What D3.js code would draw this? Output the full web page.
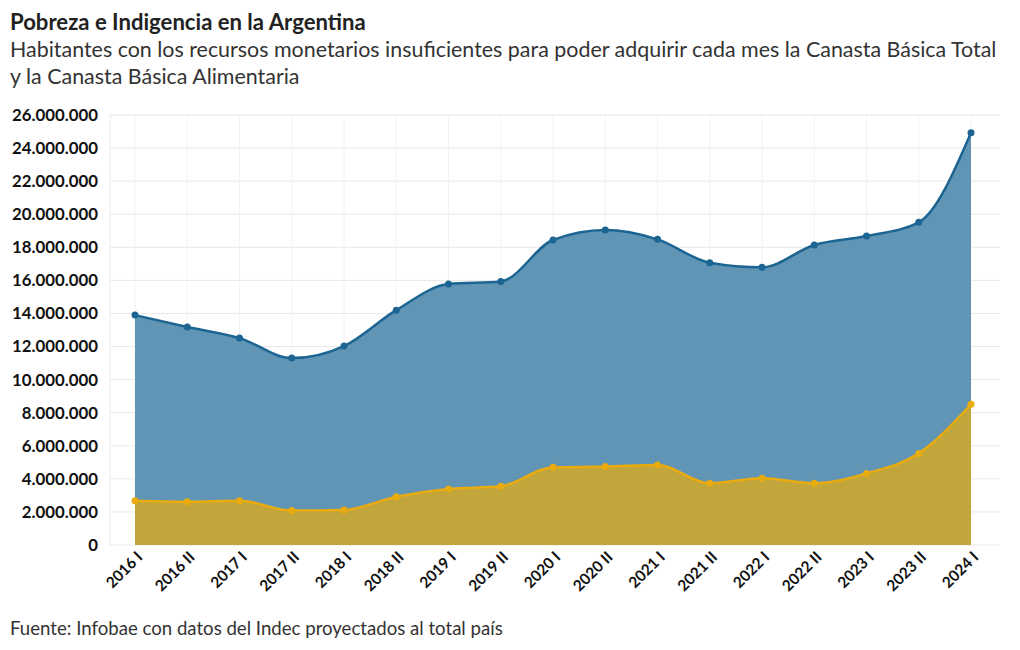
<!DOCTYPE html>
<html>
<head>
<meta charset="utf-8">
<script src="https://cdn.jsdelivr.net/npm/d3@7"></script>
<style>
  body { margin: 0; background: #fff; }
  svg { display: block; font-family: Lato, "Noto Sans", sans-serif; }
</style>
</head>
<body>
<svg id="chart" width="1020" height="650"></svg>
<script>
const categories = ["2016 I","2016 II","2017 I","2017 II","2018 I","2018 II","2019 I","2019 II","2020 I","2020 II","2021 I","2021 II","2022 I","2022 II","2023 I","2023 II","2024 I"];
const pobreza = [13900000,13180000,12510000,11300000,12030000,14200000,15780000,15930000,18440000,19040000,18480000,17070000,16790000,18140000,18680000,19510000,24930000];
const indigencia = [2680000,2620000,2680000,2080000,2120000,2920000,3390000,3550000,4700000,4740000,4840000,3730000,4030000,3730000,4330000,5540000,8510000];
const yTicks = [0,2000000,4000000,6000000,8000000,10000000,12000000,14000000,16000000,18000000,20000000,22000000,24000000,26000000];

const svg = d3.select("#chart");
const plot = {left: 110, right: 1000, top: 115, bottom: 545};

const x = d3.scalePoint().domain(categories).range([135, 971]);
const y = d3.scaleLinear().domain([0, 26000000]).range([plot.bottom, plot.top]);
const fmt = v => d3.format(",")(v).replace(/,/g, ".");

function fit(sel, base, target) {
  const w = sel.node().getComputedTextLength();
  return base * target / w;
}

// Title etc.
const title = svg.append("text").attr("x", 10).attr("y", 30).attr("font-weight", 700).attr("font-size", 20).attr("fill", "#222")
  .text("Pobreza e Indigencia en la Argentina");
title.attr("font-size", fit(title, 20, 356));
const sub1 = svg.append("text").attr("x", 10).attr("y", 57).attr("font-size", 19).attr("fill", "#333")
  .text("Habitantes con los recursos monetarios insuficientes para poder adquirir cada mes la Canasta Básica Total");
const sub2 = svg.append("text").attr("x", 10).attr("y", 84).attr("font-size", 19).attr("fill", "#333")
  .text("y la Canasta Básica Alimentaria");
const sfs = fit(sub1, 19, 987);
sub1.attr("font-size", sfs);
sub2.attr("font-size", sfs);
const foot = svg.append("text").attr("x", 10).attr("y", 635).attr("font-size", 17).attr("fill", "#333")
  .text("Fuente: Infobae con datos del Indec proyectados al total país");
foot.attr("font-size", fit(foot, 17, 493));

// Grid
const grid = svg.append("g");
grid.selectAll("line.h").data(yTicks).join("line")
  .attr("x1", plot.left).attr("x2", plot.right)
  .attr("y1", d => y(d)).attr("y2", d => y(d))
  .attr("stroke", "#e8e8e8").attr("stroke-width", 1);
grid.selectAll("line.v").data(categories).join("line")
  .attr("x1", d => x(d)).attr("x2", d => x(d))
  .attr("y1", plot.top).attr("y2", plot.bottom)
  .attr("stroke", "#f2f2f2").attr("stroke-width", 1);
grid.append("line").attr("x1", plot.left).attr("x2", plot.left).attr("y1", plot.top).attr("y2", plot.bottom)
  .attr("stroke", "#ececec");

// Y axis labels
const yAxis = d3.axisLeft(y).tickValues(yTicks).tickFormat(fmt).tickSize(0).tickPadding(0);
const ya = svg.append("g").attr("transform", `translate(98,0)`).call(yAxis);
ya.select(".domain").remove();
const yt = ya.selectAll("text").attr("font-family", "Lato, 'Noto Sans', sans-serif").attr("font-size", 15.5)
  .attr("font-weight", 700).attr("fill", "#111");
const topLabel = yt.filter(d => d === 26000000);
const yfs = fit(topLabel, 15.5, 86);
yt.attr("font-size", yfs);

// X axis labels
const xAxis = d3.axisBottom(x).tickSize(0).tickPadding(0);
const xa = svg.append("g").attr("transform", `translate(0,${plot.bottom})`).call(xAxis);
xa.select(".domain").remove();
const xt = xa.selectAll("text")
  .attr("font-family", "Lato, 'Noto Sans', sans-serif").attr("font-size", 13)
  .attr("font-weight", 700).attr("fill", "#111")
  .attr("text-anchor", "end").attr("dy", 0);
const xfs = fit(xt.filter(d => d === "2016 I"), 13, 44);
xt.attr("font-size", xfs).attr("transform", "translate(8,13) rotate(-45)");

const curve = d3.curveMonotoneX;
const area = vals => d3.area().x((d, i) => x(categories[i])).y0(y(0)).y1(d => y(d)).curve(curve)(vals);
const line = vals => d3.line().x((d, i) => x(categories[i])).y(d => y(d)).curve(curve)(vals);

svg.append("path").attr("d", area(pobreza)).attr("fill", "#6095b6");
svg.append("path").attr("d", area(indigencia)).attr("fill", "#c2a53b");
svg.append("path").attr("d", line(pobreza)).attr("fill", "none").attr("stroke", "#1c6592").attr("stroke-width", 2.5);
svg.append("path").attr("d", line(indigencia)).attr("fill", "none").attr("stroke", "#e9ab0e").attr("stroke-width", 2.5);

svg.append("g").selectAll("circle").data(pobreza).join("circle")
  .attr("cx", (d, i) => x(categories[i])).attr("cy", d => y(d)).attr("r", 3.5).attr("fill", "#1c6592");
svg.append("g").selectAll("circle").data(indigencia).join("circle")
  .attr("cx", (d, i) => x(categories[i])).attr("cy", d => y(d)).attr("r", 3.5).attr("fill", "#e9ab0e");
</script>
</body>
</html>
